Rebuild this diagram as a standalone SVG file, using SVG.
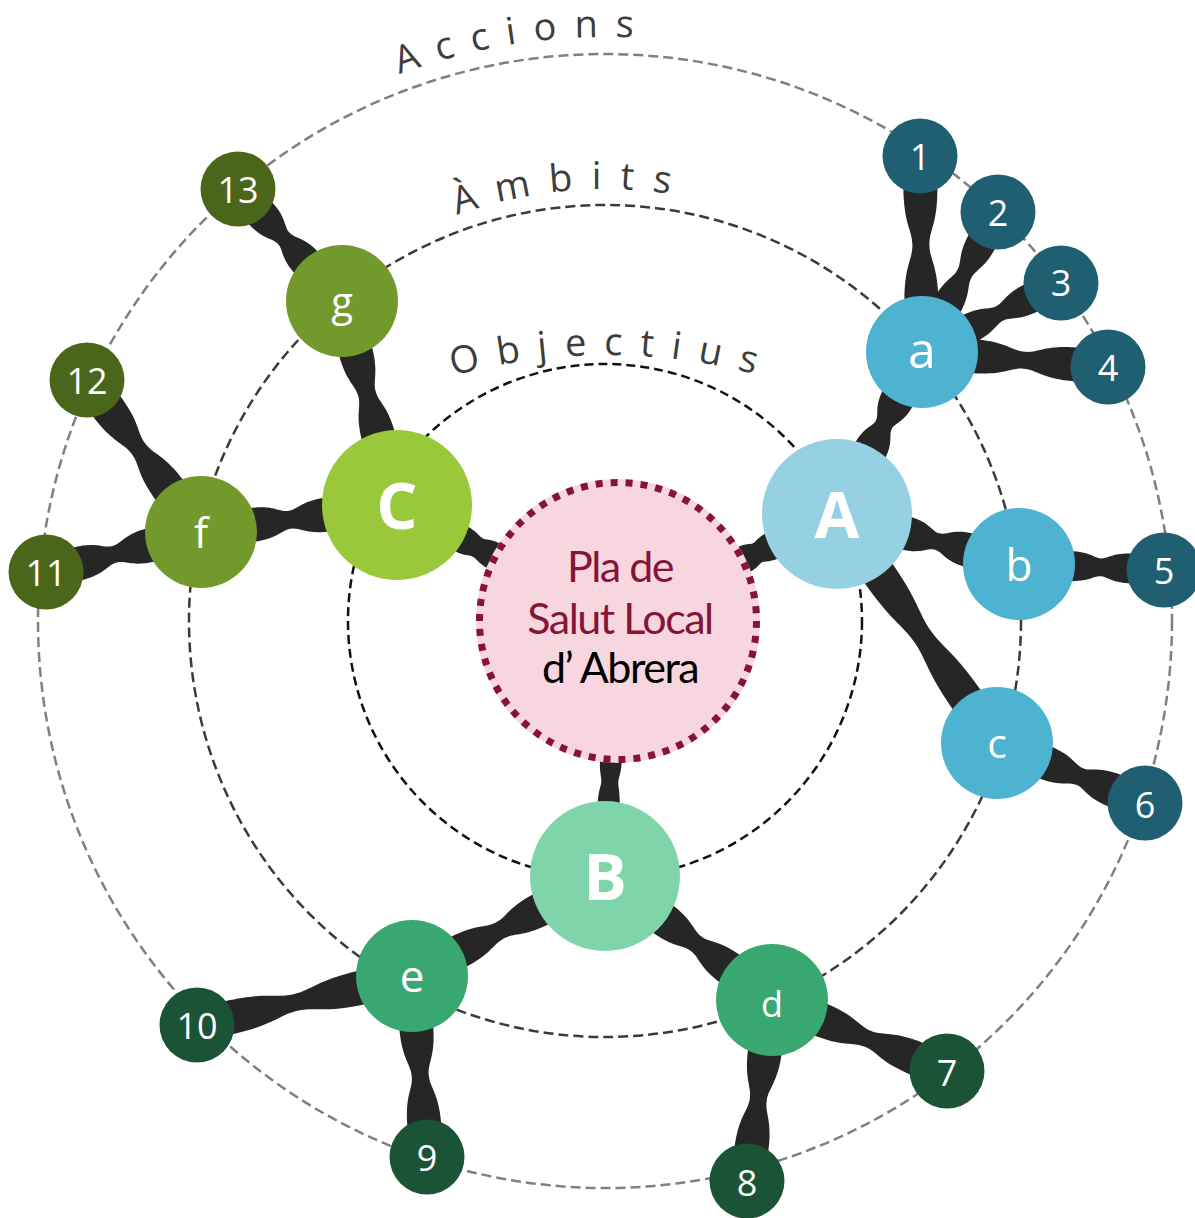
<svg xmlns="http://www.w3.org/2000/svg" width="1195" height="1218" viewBox="0 0 1195 1218">
<style>
.conn{fill:#262626}
.ring{fill:none;stroke-width:2.5}
.arc{font-family:"Open Sans","Liberation Sans",sans-serif;font-size:38px;fill:#3d3d3d}
.lbl{font-family:"Open Sans","Liberation Sans",sans-serif;fill:#fff;text-anchor:middle}
.big{font-size:65px;font-weight:700}
.mid{font-size:44px}
.num{font-size:36px}
.ctr{font-family:Lato,"Noto Sans","Liberation Sans",sans-serif;font-size:43px;text-anchor:middle;letter-spacing:-1.5px}
</style>
<defs>
<path id="arcAcc" d="M21,621 A584,584 0 0 1 1189,621"/>
<path id="arcAmb" d="M173,621 A432,432 0 0 1 1037,621"/>
<path id="arcObj" d="M27,935 A580,580 0 0 1 1187,935"/>
</defs>
<rect width="1195" height="1218" fill="#fff"/>
<g id="rings">
<circle class="ring" cx="605" cy="621" r="567" stroke="#808080" stroke-dasharray="10 5"/>
<circle class="ring" cx="605" cy="621" r="416" stroke="#3a3a3a" stroke-dasharray="10 5"/>
<circle class="ring" cx="605" cy="621" r="257" stroke="#111" stroke-dasharray="9 5"/>
</g>
<g id="ring-labels">
<text class="arc" letter-spacing="17.4"><textPath href="#arcAcc" startOffset="707">Accions</textPath></text>
<text class="arc" letter-spacing="18.5"><textPath href="#arcAmb" startOffset="527">Àmbits</textPath></text>
<text class="arc" letter-spacing="17.3"><textPath href="#arcObj" startOffset="755">Objectius</textPath></text>
</g>
<g id="connectors">
<path class="conn" transform="translate(618 621) rotate(-26.04)" d="M136,-14 C150,-14 151.35,-10.5 155.35,-10.5 C159.35,-10.5 160.7,-14 174.7,-14 L174.7,14 C160.7,14 159.35,10.5 155.35,10.5 C151.35,10.5 150,14 136,14 Z"/>
<path class="conn" transform="translate(618 621) rotate(92.92)" d="M136,-11 C153.5,-11 155.45,-8.5 161.15,-8.5 C166.85,-8.5 168.8,-11 186.3,-11 L186.3,11 C168.8,11 166.85,8.5 161.15,8.5 C155.45,8.5 153.5,11 136,11 Z"/>
<path class="conn" transform="translate(618 621) rotate(-152.31)" d="M136,-14 C151.8,-14 153.4,-10.5 158.3,-10.5 C163.2,-10.5 164.8,-14 180.6,-14 L180.6,14 C164.8,14 163.2,10.5 158.3,10.5 C153.4,10.5 151.8,14 136,14 Z"/>
<path class="conn" transform="translate(837 514) rotate(-62.31)" d="M69,-17 C90.6,-17 93.15,-9 100.95,-9 C108.75,-9 111.3,-17 132.9,-17 L132.9,17 C111.3,17 108.75,9 100.95,9 C93.15,9 90.6,17 69,17 Z"/>
<path class="conn" transform="translate(837 514) rotate(15.36)" d="M69,-17 C92.3,-17 95.15,-8.5 103.85,-8.5 C112.55,-8.5 115.4,-17 138.7,-17 L138.7,17 C115.4,17 112.55,8.5 103.85,8.5 C95.15,8.5 92.3,17 69,17 Z"/>
<path class="conn" transform="translate(837 514) rotate(55.06)" d="M69,-17 C119.5,-17 126.9,-10 149.2,-10 C171.5,-10 178.9,-17 229.4,-17 L229.4,17 C178.9,17 171.5,10 149.2,10 C126.9,10 119.5,17 69,17 Z"/>
<path class="conn" transform="translate(605 876) rotate(36.59)" d="M69,-17 C98.1,-17 101.95,-9 113.5,-9 C125.05,-9 128.9,-17 158,-17 L158,17 C128.9,17 125.05,9 113.5,9 C101.95,9 98.1,17 69,17 Z"/>
<path class="conn" transform="translate(605 876) rotate(152.61)" d="M69,-17 C100.9,-17 105.2,-9 118.2,-9 C131.2,-9 135.5,-17 167.4,-17 L167.4,17 C135.5,17 131.2,9 118.2,9 C105.2,9 100.9,17 69,17 Z"/>
<path class="conn" transform="translate(397 505) rotate(172.16)" d="M69,-17 C95.1,-17 98.4,-9 108.4,-9 C118.4,-9 121.75,-17 147.85,-17 L147.85,17 C121.75,17 118.4,9 108.4,9 C98.4,9 95.1,17 69,17 Z"/>
<path class="conn" transform="translate(397 505) rotate(-105.09)" d="M69,-17 C99.1,-17 103.15,-9 115.15,-9 C127.15,-9 131.2,-17 161.3,-17 L161.3,17 C131.2,17 127.15,9 115.15,9 C103.15,9 99.1,17 69,17 Z"/>
<path class="conn" transform="translate(922 352) rotate(-90.58)" d="M50,-17 C86.75,-17 91.85,-8.5 107.25,-8.5 C122.65,-8.5 127.75,-17 164.5,-17 L164.5,17 C127.75,17 122.65,8.5 107.25,8.5 C91.85,8.5 86.75,17 50,17 Z"/>
<path class="conn" transform="translate(922 352) rotate(-61.5)" d="M50,-15 C75.7,-15 79,-8 88.9,-8 C98.8,-8 102.1,-15 127.8,-15 L127.8,15 C102.1,15 98.8,8 88.9,8 C79,8 75.7,15 50,15 Z"/>
<path class="conn" transform="translate(922 352) rotate(-26.4)" d="M50,-15 C74.5,-15 77.55,-8 86.85,-8 C96.15,-8 99.2,-15 123.7,-15 L123.7,15 C99.2,15 96.15,8 86.85,8 C77.55,8 74.5,15 50,15 Z"/>
<path class="conn" transform="translate(922 352) rotate(4.61)" d="M50,-17 C83.9,-17 88.55,-8.5 102.55,-8.5 C116.55,-8.5 121.2,-17 155.1,-17 L155.1,17 C121.2,17 116.55,8.5 102.55,8.5 C88.55,8.5 83.9,17 50,17 Z"/>
<path class="conn" transform="translate(1019 564) rotate(2.37)" d="M50,-15 C71.5,-15 74.1,-9 81.8,-9 C89.5,-9 92.1,-15 113.6,-15 L113.6,15 C92.1,15 89.5,9 81.8,9 C74.1,9 71.5,15 50,15 Z"/>
<path class="conn" transform="translate(997 743) rotate(22.07)" d="M50,-17 C75.9,-17 79.2,-9 89.1,-9 C99,-9 102.3,-17 128.2,-17 L128.2,17 C102.3,17 99,9 89.1,9 C79.2,9 75.9,17 50,17 Z"/>
<path class="conn" transform="translate(772 1000) rotate(22.09)" d="M50,-17 C84.6,-17 89.4,-8.5 103.7,-8.5 C118,-8.5 122.8,-17 157.4,-17 L157.4,17 C122.8,17 118,8.5 103.7,8.5 C89.4,8.5 84.6,17 50,17 Z"/>
<path class="conn" transform="translate(772 1000) rotate(97.86)" d="M50,-17 C82.8,-17 87.2,-8.5 100.6,-8.5 C114,-8.5 118.4,-17 151.2,-17 L151.2,17 C118.4,17 114,8.5 100.6,8.5 C87.2,8.5 82.8,17 50,17 Z"/>
<path class="conn" transform="translate(412 976) rotate(85.26)" d="M50,-17 C82.4,-17 86.85,-8.5 100.05,-8.5 C113.25,-8.5 117.7,-17 150.1,-17 L150.1,17 C117.7,17 113.25,8.5 100.05,8.5 C86.85,8.5 82.4,17 50,17 Z"/>
<path class="conn" transform="translate(412 976) rotate(167.16)" d="M50,-17 C94.1,-17 100.45,-8.5 119.5,-8.5 C138.55,-8.5 144.9,-17 189,-17 L189,17 C144.9,17 138.55,8.5 119.5,8.5 C100.45,8.5 94.1,17 50,17 Z"/>
<path class="conn" transform="translate(201 532) rotate(165.53)" d="M50,-17 C76,-17 79.3,-8.5 89.3,-8.5 C99.3,-8.5 102.6,-17 128.6,-17 L128.6,17 C102.6,17 99.3,8.5 89.3,8.5 C79.3,8.5 76,17 50,17 Z"/>
<path class="conn" transform="translate(201 532) rotate(-126.87)" d="M50,-17 C85,-17 89.75,-8.5 104.25,-8.5 C118.75,-8.5 123.5,-17 158.5,-17 L158.5,17 C123.5,17 118.75,8.5 104.25,8.5 C89.75,8.5 85,17 50,17 Z"/>
<path class="conn" transform="translate(342 301) rotate(-132.88)" d="M50,-16 C73.8,-16 76.75,-8 85.65,-8 C94.55,-8 97.5,-16 121.3,-16 L121.3,16 C97.5,16 94.55,8 85.65,8 C76.75,8 73.8,16 50,16 Z"/>
</g>
<g id="node-center">
<circle cx="618" cy="621" r="142" fill="#f7d6e0"/>
<circle cx="618" cy="621" r="138.5" fill="none" stroke="#851538" stroke-width="7" stroke-dasharray="7 8"/>
<text class="ctr" x="620" y="582" fill="#851538">Pla de</text>
<text class="ctr" x="620" y="634" fill="#851538">Salut Local</text>
<text class="ctr" x="620" y="683" fill="#000">d’ Abrera</text>
</g>
<g id="node-A"><circle cx="837" cy="514" r="75" fill="#96d1e3"/><text class="lbl big" x="837" y="538">A</text></g>
<g id="node-B"><circle cx="605" cy="876" r="75" fill="#7fd4a9"/><text class="lbl big" x="605" y="900">B</text></g>
<g id="node-C"><circle cx="397" cy="505" r="75" fill="#99c93b"/><text class="lbl big" x="397" y="529">C</text></g>
<g id="node-a"><circle cx="922" cy="352" r="56" fill="#4db3d0"/><text class="lbl" font-size="50" x="922" y="368">a</text></g>
<g id="node-b"><circle cx="1019" cy="564" r="56" fill="#4db3d0"/><text class="lbl mid" x="1019" y="581">b</text></g>
<g id="node-c"><circle cx="997" cy="743" r="56" fill="#4db3d0"/><text class="lbl" font-size="41" x="997" y="758">c</text></g>
<g id="node-d"><circle cx="772" cy="1000" r="56" fill="#38a870"/><text class="lbl" font-size="36" x="772" y="1017">d</text></g>
<g id="node-e"><circle cx="412" cy="976" r="56" fill="#38a870"/><text class="lbl mid" x="412" y="992">e</text></g>
<g id="node-f"><circle cx="201" cy="532" r="56" fill="#72992c"/><text class="lbl" font-size="42" x="201" y="548">f</text></g>
<g id="node-g"><circle cx="342" cy="301" r="56" fill="#72992c"/><text class="lbl" font-size="40" x="342" y="316">g</text></g>
<g id="node-1"><circle cx="920" cy="156" r="37.5" fill="#1f5f71"/><text class="lbl num" x="920" y="170">1</text></g>
<g id="node-2"><circle cx="998" cy="212" r="37.5" fill="#1f5f71"/><text class="lbl num" x="998" y="226">2</text></g>
<g id="node-3"><circle cx="1061" cy="283" r="37.5" fill="#1f5f71"/><text class="lbl num" x="1061" y="296">3</text></g>
<g id="node-4"><circle cx="1108" cy="367" r="37.5" fill="#1f5f71"/><text class="lbl num" x="1108" y="381">4</text></g>
<g id="node-5"><circle cx="1164" cy="570" r="37.5" fill="#1f5f71"/><text class="lbl num" x="1164" y="584">5</text></g>
<g id="node-6"><circle cx="1145" cy="803" r="37.5" fill="#1f5f71"/><text class="lbl num" x="1145" y="818">6</text></g>
<g id="node-7"><circle cx="947" cy="1071" r="37.5" fill="#1b5336"/><text class="lbl num" x="947" y="1086">7</text></g>
<g id="node-8"><circle cx="747" cy="1181" r="37.5" fill="#1b5336"/><text class="lbl num" x="747" y="1196">8</text></g>
<g id="node-9"><circle cx="427" cy="1157" r="37.5" fill="#1b5336"/><text class="lbl num" x="427" y="1171">9</text></g>
<g id="node-10"><circle cx="197" cy="1025" r="37.5" fill="#1b5336"/><text class="lbl num" x="197" y="1039">10</text></g>
<g id="node-11"><circle cx="46" cy="572" r="37.5" fill="#4a661a"/><text class="lbl num" x="46" y="586">11</text></g>
<g id="node-12"><circle cx="87" cy="380" r="37.5" fill="#4a661a"/><text class="lbl num" x="87" y="394">12</text></g>
<g id="node-13"><circle cx="238" cy="189" r="37.5" fill="#4a661a"/><text class="lbl num" x="238" y="203">13</text></g>
</svg>
